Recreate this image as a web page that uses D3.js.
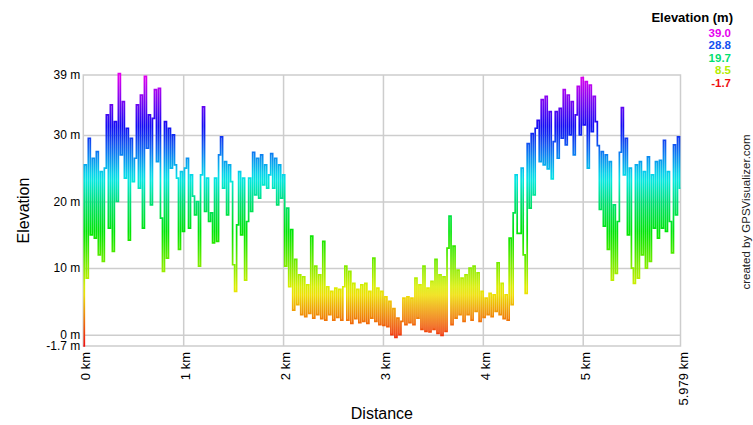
<!DOCTYPE html>
<html>
<head>
<meta charset="utf-8">
<script src="https://cdn.jsdelivr.net/npm/d3@7"></script>
<style>
  body { margin: 0; background: #fff; }
  svg { display: block; font-family: 'Liberation Sans', Arial, sans-serif; }
</style>
</head>
<body>
<div id="chart"></div>
<script>
'use strict'

// elevation profile (m), points evenly spaced along the track
let elev_0_to_1_5km = [-1.7, 25.5, 8.5, 29.5, 15.0, 26.5, 14.5, 27.5, 12.0, 24.5, 11.0, 25.0, 33.0, 16.0, 34.5, 12.5,
	32.0, 20.0, 39.2, 27.0, 35.0, 23.5, 31.0, 14.2, 29.5, 23.0, 26.5, 34.5, 22.0, 36.0, 16.0, 38.8, 28.0, 33.0,
	19.5, 32.5, 36.8, 26.0, 37.0, 17.5, 9.5, 32.0, 11.5, 31.0, 25.0, 30.0, 25.5, 23.5, 12.8, 24.5, 15.5, 25.0,
	26.5, 16.0, 24.0, 20.8, 18.0, 20.0, 10.3, 24.0, 34.2, 18.5, 23.5, 17.0, 18.3, 13.8, 23.5, 14.0, 27.0, 29.7,
	22.0, 26.0, 18.0, 25.5, 23.0, 10.5, 6.5]
let elev_1_5_to_3km = [16.5, 24.5, 15.0, 23.5, 8.2, 17.0, 23.5, 18.5, 27.4, 21.0, 26.5, 20.5, 27.0, 22.5, 25.5, 22.0,
	24.0, 27.2, 22.0, 26.5, 19.5, 25.5, 20.5, 24.0, 10.3, 19.0, 7.2, 15.8, 3.7, 11.3, 4.5, 9.0, 3.0, 8.7, 2.7,
	7.5, 3.2, 14.8, 2.5, 10.3, 3.0, 9.0, 2.4, 14.0, 2.2, 7.2, 3.0, 6.5, 2.2, 7.0, 2.6, 6.8, 2.2, 7.2, 10.3, 2.2,
	9.5, 1.7, 7.7, 2.4, 6.8, 1.8, 7.5, 2.0, 7.7, 1.7, 6.5, 2.5, 11.5, 2.0, 7.0, 1.5, 6.5, 1.4]
let elev_3_to_4_5km = [5.7, 1.2, 5.0, 0.0, 3.9, -0.4, 2.5, 0.0, 2.0, 5.5, 1.5, 5.7, 1.8, 5.5, 1.5, 8.5, 2.5, 7.5, 0.8,
	10.3, 0.5, 7.0, 0.4, 8.0, 0.8, 11.3, 0.2, 9.0, -0.1, 8.7, 0.5, 13.0, 17.8, 1.5, 13.3, 2.5, 9.7, 3.0, 8.5, 2.0,
	9.0, 3.0, 10.0, 2.2, 10.3, 3.5, 9.3, 2.0, 6.5, 2.6, 5.5, 3.0, 6.2, 2.7, 6.0, 3.5, 10.8, 3.0, 7.7, 2.4, 6.0,
	2.2, 14.5, 4.5, 18.3, 24.0, 15.2, 15.2, 25.0, 12.0, 6.2, 28.7, 19.0, 30.2, 21.0, 31.0]
let elev_4_5_to_end = [32.2, 26.0, 35.3, 25.5, 35.8, 24.9, 33.5, 23.4, 29.0, 33.5, 26.5, 34.0, 29.5, 36.8, 28.5, 36.0,
	30.0, 35.0, 27.0, 33.0, 37.3, 30.0, 38.6, 31.5, 38.0, 25.0, 37.5, 30.5, 35.8, 32.0, 28.4, 18.8, 27.5, 16.3,
	27.0, 12.8, 26.0, 8.2, 19.5, 9.2, 17.0, 27.4, 34.1, 24.0, 29.5, 15.0, 25.0, 10.0, 7.7, 25.5, 8.5, 26.0, 12.0,
	24.5, 10.0, 26.7, 11.0, 24.0, 16.0, 26.0, 14.5, 26.2, 16.0, 29.2, 15.5, 24.5, 17.0, 12.3, 28.5, 18.0, 29.7, 22.0]

let total_km = 5.979
let elev_min = -1.7
let elev_max = 39

let x_ticks = [0, 1, 2, 3, 4, 5, 5.979]
let y_ticks = [39, 30, 20, 10, 0, -1.7]
let y_grid = [30, 20, 10, 0]

let legend_vals = [39.0, 28.8, 19.7, 8.5, -1.7]
let legend_colors = ['#e600ee', '#1450f0', '#00e070', '#b4ee00', '#f01010']

let width = 753, height = 425
let margin = {left: 83.3, right: 72.5, top: 75, bottom: 79}

let elevations = elev_0_to_1_5km.concat(elev_1_5_to_3km, elev_3_to_4_5km, elev_4_5_to_end)
let step = total_km / (elevations.length - 1)
let points = elevations.map(function(e, i){
	return [i * step, e]
})

let xScale = d3.scaleLinear().domain([0, total_km]).range([margin.left, width - margin.right])
let yScale = d3.scaleLinear().domain([elev_min, elev_max]).range([height - margin.bottom, margin.top])

let svg = d3.select('#chart').append('svg').attr('width', width).attr('height', height)

// vertical colour ramp, same as the legend
let grad = svg.append('defs').append('linearGradient')
	.attr('id', 'elevGrad')
	.attr('gradientUnits', 'userSpaceOnUse')
	.attr('x1', 0).attr('x2', 0)
	.attr('y1', yScale(elev_max)).attr('y2', yScale(elev_min))

for (var i = 0; i < legend_vals.length - 1; i++){
	let interp = d3.interpolateHsl(legend_colors[i], legend_colors[i + 1])
	for (var k = 0; k < 8; k++){
		let t = k / 8
		let v = legend_vals[i] + (legend_vals[i + 1] - legend_vals[i]) * t
		grad.append('stop')
			.attr('offset', (elev_max - v) / (elev_max - elev_min))
			.attr('stop-color', interp(t))
	}
}
grad.append('stop').attr('offset', 1).attr('stop-color', legend_colors[legend_colors.length - 1])

let plot_w = xScale(total_km) - xScale(0)
let plot_h = yScale(elev_min) - yScale(elev_max)

// grid
let ygrid = svg.append('g')
	.attr('transform', 'translate(' + xScale(0) + ',0)')
	.call(d3.axisLeft(yScale).tickValues(y_grid).tickSize(-plot_w).tickFormat(''))
let xgrid = svg.append('g')
	.attr('transform', 'translate(0,' + yScale(elev_max) + ')')
	.call(d3.axisBottom(xScale).tickValues([1, 2, 3, 4, 5]).tickSize(plot_h).tickFormat(''))
ygrid.select('.domain').remove()
xgrid.select('.domain').remove()
svg.selectAll('.tick line').attr('stroke', '#cdcdcd').attr('stroke-width', 1.5)

svg.append('rect')
	.attr('x', xScale(0)).attr('y', yScale(elev_max))
	.attr('width', plot_w).attr('height', plot_h)
	.attr('fill', 'none').attr('stroke', '#cdcdcd').attr('stroke-width', 1.5)

// profile
svg.append('path')
	.datum(points)
	.attr('fill', 'none')
	.attr('stroke', 'url(#elevGrad)')
	.attr('stroke-width', 1.7)
	.attr('d', d3.line()
		.x(function(d){ return xScale(d[0]) })
		.y(function(d){ return yScale(d[1]) })
		.curve(d3.curveStep))

// axes labels
let yaxis = svg.append('g')
	.attr('transform', 'translate(' + xScale(0) + ',0)')
	.call(d3.axisLeft(yScale).tickValues(y_ticks).tickSize(0).tickPadding(3).tickFormat(function(d){ return d + ' m' }))
yaxis.select('.domain').remove()
yaxis.selectAll('text').style('font-size', '12px').attr('fill', '#000')

let xaxis = svg.append('g')
	.attr('transform', 'translate(0,' + yScale(elev_min) + ')')
	.call(d3.axisBottom(xScale).tickValues(x_ticks).tickSize(0).tickFormat(function(d){ return d + ' km' }))
xaxis.select('.domain').remove()
xaxis.selectAll('text')
	.style('font-size', '13px')
	.attr('fill', '#000')
	.attr('transform', 'rotate(-90)')
	.attr('x', -6).attr('y', 0).attr('dy', '0.5em')
	.style('text-anchor', 'end')

svg.append('text').text('Elevation')
	.attr('transform', 'translate(29,' + (yScale(elev_max) + plot_h / 2) + ') rotate(-90)')
	.attr('text-anchor', 'middle').style('font-size', '16px')

svg.append('text').text('Distance')
	.attr('x', xScale(0) + plot_w / 2).attr('y', 419)
	.attr('text-anchor', 'middle').style('font-size', '16px')

// legend
svg.append('text').text('Elevation (m)')
	.attr('x', 733).attr('y', 22)
	.attr('text-anchor', 'end').style('font-size', '13px').style('font-weight', 'bold')

svg.selectAll('.legend-val')
	.data(legend_vals)
	.enter()
	.append('text')
	.attr('class', 'legend-val')
	.attr('x', 731)
	.attr('y', function(d, i){ return 37 + i * 12.4 })
	.attr('text-anchor', 'end')
	.style('font-size', '11.5px')
	.style('font-weight', 'bold')
	.attr('fill', function(d, i){ return legend_colors[i] })
	.text(function(d){ return d.toFixed(1) })

svg.append('text').text('created by GPSVisualizer.com')
	.attr('transform', 'translate(750,212) rotate(-90)')
	.attr('text-anchor', 'middle').style('font-size', '11.5px').attr('fill', '#222')
</script>
</body>
</html>
